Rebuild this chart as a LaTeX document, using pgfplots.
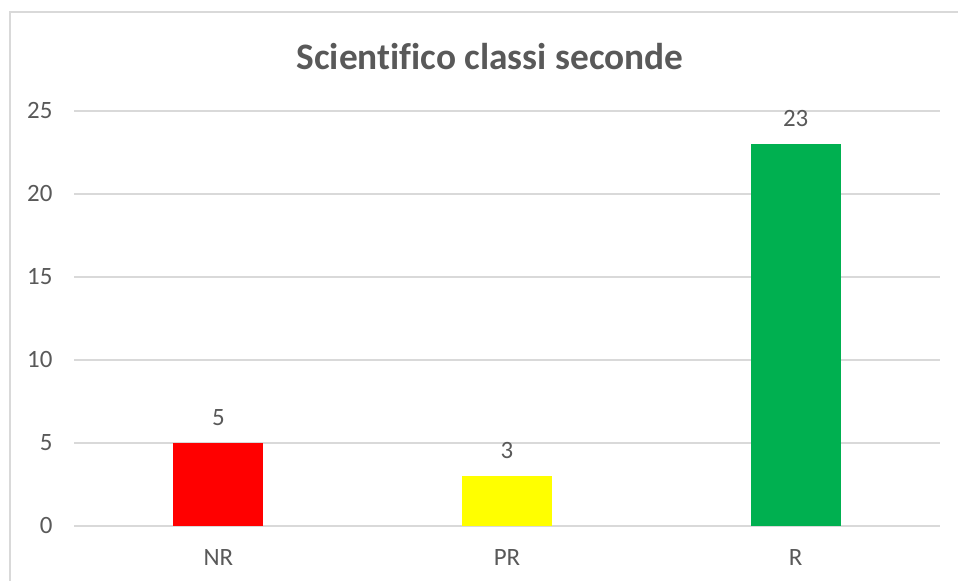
\documentclass[border=0pt]{standalone}
\usepackage{fontspec}
\setmainfont[Ligatures=NoCommon]{Carlito}
\usepackage{pgfplots}
\pgfplotsset{compat=1.18}
\definecolor{txt}{HTML}{595959}
\definecolor{gridc}{HTML}{D9D9D9}
\definecolor{nrc}{HTML}{FF0000}
\definecolor{prc}{HTML}{FFFF00}
\definecolor{rc}{HTML}{00B050}

\begin{document}
\begin{tikzpicture}[x=1bp,y=1bp]
\useasboundingbox (0,0) rectangle (958,581);
\draw[gridc, line width=1.2bp] (10,-5) -- (10,569) -- (970,569);
\node[txt, font=\fontsize{37.5}{44}\selectfont\bfseries] at (490,524) {Scientifico classi seconde};
\begin{axis}[
    at={(74bp,55bp)}, anchor=south west,
    width=866bp, height=415bp, scale only axis,
    xmin=-0.5, xmax=2.5, ymin=0, ymax=25,
    xtick={0,1,2}, xticklabels={NR,PR,R},
    ytick={0,5,...,25},
    ymajorgrids, grid style={gridc, line width=1.2bp},
    axis line style={draw=none},
    major tick length=0pt,
    tick label style={txt, font=\fontsize{25}{30}\selectfont},
    /pgf/number format/assume math mode=true,
    yticklabel style={xshift=-18bp},
    xticklabel style={yshift=-20bp},
    ybar, bar width=90bp, bar shift=0pt,
    nodes near coords,
    every node near coord/.append style={txt, font=\fontsize{25}{30}\selectfont, yshift=14bp},
    clip=false,
]
\addplot[fill=nrc, draw=none] coordinates {(0,5)};
\addplot[fill=prc, draw=none] coordinates {(1,3)};
\addplot[fill=rc, draw=none] coordinates {(2,23)};
\end{axis}
\end{tikzpicture}
\end{document}
